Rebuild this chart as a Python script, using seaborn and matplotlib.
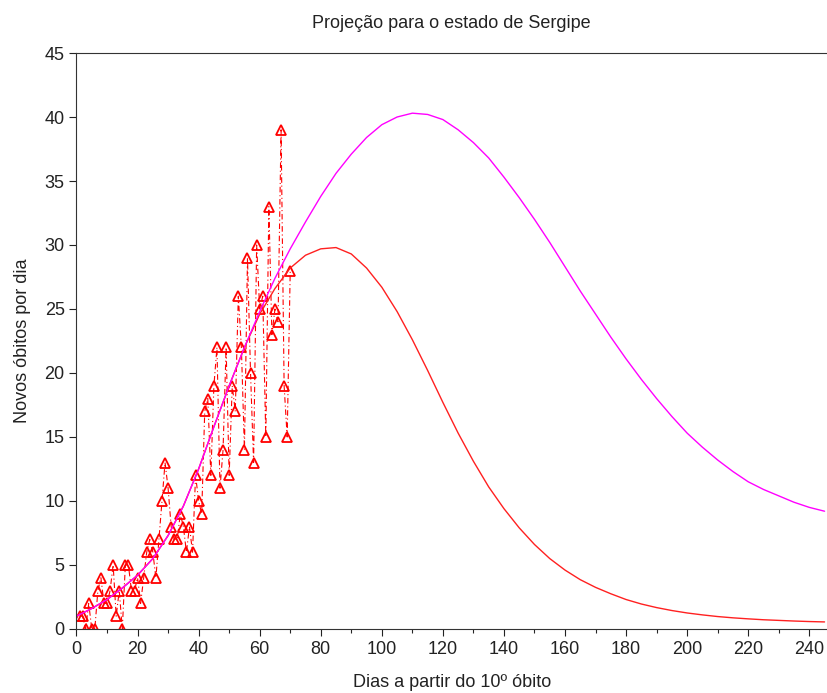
import numpy as np
import pandas as pd
import matplotlib
matplotlib.use("Agg")
import matplotlib.pyplot as plt
import seaborn as sns
from matplotlib.ticker import MultipleLocator

# observed daily deaths (days 1..70)
dias_obs = list(range(1, 71))
obitos = [1, 1, 0, 2, 0, 0, 3, 4, 2, 2,
          3, 5, 1, 3, 0, 5, 5, 3, 3, 4,
          2, 4, 6, 7, 6, 4, 7, 10, 13, 11,
          8, 7, 7, 9, 8, 6, 8, 6, 12, 10,
          9, 17, 18, 12, 19, 22, 11, 14, 22, 12,
          19, 17, 26, 22, 14, 29, 20, 13, 30, 25,
          26, 15, 33, 23, 25, 24, 39, 19, 15, 28]

# projection curves read at 5-day steps
dias_proj = list(range(0, 250, 5))
proj_magenta = [1.0, 1.6, 2.3, 3.2, 4.2, 5.5, 7.3, 9.6, 12.5, 15.8,
                19.0, 22.0, 24.8, 27.4, 29.7, 31.8, 33.8, 35.6, 37.1, 38.4,
                39.4, 40.0, 40.3, 40.2, 39.8, 39.0, 38.0, 36.8, 35.3, 33.7,
                32.0, 30.2, 28.3, 26.4, 24.6, 22.8, 21.1, 19.5, 18.0, 16.6,
                15.3, 14.2, 13.2, 12.3, 11.5, 10.9, 10.4, 9.9, 9.5, 9.2]
proj_vermelha = [1.0, 1.6, 2.3, 3.2, 4.2, 5.5, 7.3, 9.6, 12.5, 15.8,
                 19.0, 22.0, 24.6, 26.6, 28.2, 29.2, 29.7, 29.8, 29.3, 28.2,
                 26.7, 24.8, 22.6, 20.2, 17.7, 15.3, 13.1, 11.1, 9.4, 7.9,
                 6.6, 5.5, 4.6, 3.85, 3.25, 2.75, 2.3, 1.95, 1.67, 1.44,
                 1.25, 1.1, 0.97, 0.87, 0.79, 0.72, 0.67, 0.62, 0.58, 0.55]

titulo = "Projeção para o estado de Sergipe"
xlabel = "Dias a partir do 10º óbito"
ylabel = "Novos óbitos por dia"

sns.set_style("white")
plt.rcParams['font.family'] = ['Liberation Sans', 'DejaVu Sans']

fig = plt.figure(figsize=(8.27, 6.93), dpi=100)
ax = fig.add_axes([0.0925, 0.0924, 0.9075, 0.8311])

df_obs = pd.DataFrame({"dia": dias_obs, "obitos": obitos})
df_proj = pd.DataFrame({"dia": dias_proj, "m": proj_magenta, "v": proj_vermelha})

sns.lineplot(data=df_obs, x="dia", y="obitos", ax=ax, color="red", lw=0.8,
             linestyle=(0, (5, 2.5, 1, 2.5)), marker="^", markersize=7,
             markerfacecolor="none", markeredgecolor="red", markeredgewidth=1.3,
             estimator=None, sort=False)
sns.lineplot(data=df_proj, x="dia", y="v", ax=ax, color="#ff2020", lw=1.0,
             estimator=None, sort=False)
sns.lineplot(data=df_proj, x="dia", y="m", ax=ax, color="#ff00ff", lw=1.0,
             estimator=None, sort=False)

ax.set_xlim(0, 245.8)
ax.set_ylim(0, 45)
ax.xaxis.set_major_locator(MultipleLocator(20))
ax.xaxis.set_minor_locator(MultipleLocator(10))
ax.yaxis.set_major_locator(MultipleLocator(5))
ax.tick_params(axis="both", which="major", direction="out", length=5, width=0.8,
               labelsize=13, colors="#222222", bottom=True, left=True)
ax.tick_params(axis="x", which="minor", direction="out", length=3, width=0.8, bottom=True)
for s in ["left", "bottom", "top"]:
    ax.spines[s].set_visible(True)
    ax.spines[s].set_color("#333333")
    ax.spines[s].set_linewidth(0.8)
ax.spines["right"].set_visible(False)

ax.set_xlabel(xlabel, fontsize=13, color="#222222", labelpad=12)
ax.set_ylabel(ylabel, fontsize=13, color="#222222", labelpad=10)
ax.set_title(titulo, fontsize=13, color="#222222", pad=18)

fig.savefig("out.png", dpi=100)
